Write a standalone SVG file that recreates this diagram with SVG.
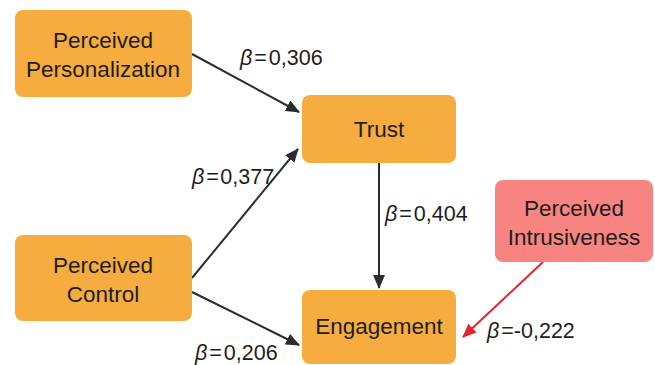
<svg xmlns="http://www.w3.org/2000/svg" width="655" height="365" viewBox="0 0 655 365">
<defs>
<style>
.node{fill:#F6AC3E}
.red{fill:#F88482}
.lbl{font-family:"Liberation Sans",Arial,sans-serif;font-size:22.5px;fill:#1d1d1d;text-anchor:middle}
.beta{font-family:"Liberation Sans",Arial,sans-serif;font-size:21.5px;fill:#1d1d1d}
.b{font-style:italic}
.edge{stroke:#2a2d30;stroke-width:2;fill:none;marker-end:url(#ah)}
.edgeR{stroke:#E2262E;stroke-width:2;fill:none;marker-end:url(#ahR)}
</style>
<marker id="ah" viewBox="0 0 14 12" refX="13" refY="6" markerWidth="14" markerHeight="12" markerUnits="userSpaceOnUse" orient="auto">
<path d="M0,0 L14,6 L0,12 Z" fill="#2a2d30"/>
</marker>
<marker id="ahR" viewBox="0 0 14 12" refX="13" refY="6" markerWidth="14" markerHeight="12" markerUnits="userSpaceOnUse" orient="auto">
<path d="M0,0 L14,6 L0,12 Z" fill="#E2262E"/>
</marker>
</defs>
<rect width="655" height="365" fill="#ffffff"/>
<g id="connectors">
<line class="edge" x1="192" y1="54" x2="299" y2="112"/>
<line class="edge" x1="192" y1="278" x2="298" y2="149"/>
<line class="edge" x1="192" y1="292" x2="299" y2="345"/>
<line class="edge" x1="379" y1="163" x2="379" y2="288"/>
<line class="edgeR" x1="543" y1="262" x2="463" y2="337"/>
<text class="beta" x="240" y="65"><tspan class="b">β</tspan><tspan dx="2">=</tspan><tspan dx="2">0,306</tspan></text>
<text class="beta" x="192" y="184"><tspan class="b">β</tspan><tspan dx="2">=</tspan><tspan dx="1.5">0,377</tspan></text>
<text class="beta" x="385" y="221"><tspan class="b">β</tspan><tspan dx="2">=</tspan><tspan dx="2">0,404</tspan></text>
<text class="beta" x="195" y="360"><tspan class="b">β</tspan><tspan dx="2">=</tspan><tspan dx="2">0,206</tspan></text>
<text class="beta" x="487" y="338"><tspan class="b">β</tspan><tspan dx="2">=-0,222</tspan></text>
</g>
<g id="n-personalization">
<rect class="node" x="15" y="10" width="177" height="87" rx="8"/>
<text class="lbl" x="103" y="48">Perceived</text>
<text class="lbl" x="103" y="77">Personalization</text>
</g>
<g id="n-control">
<rect class="node" x="15" y="235" width="177" height="86" rx="8"/>
<text class="lbl" x="103" y="273">Perceived</text>
<text class="lbl" x="103" y="302">Control</text>
</g>
<g id="n-trust">
<rect class="node" x="302" y="95" width="154" height="68" rx="8"/>
<text class="lbl" x="379" y="137">Trust</text>
</g>
<g id="n-engagement">
<rect class="node" x="302" y="290" width="154" height="74" rx="8"/>
<text class="lbl" x="379" y="334">Engagement</text>
</g>
<g id="n-intrusiveness">
<rect class="red" x="495" y="180" width="158" height="82" rx="8"/>
<text class="lbl" x="574" y="216">Perceived</text>
<text class="lbl" x="574" y="245">Intrusiveness</text>
</g>
</svg>
